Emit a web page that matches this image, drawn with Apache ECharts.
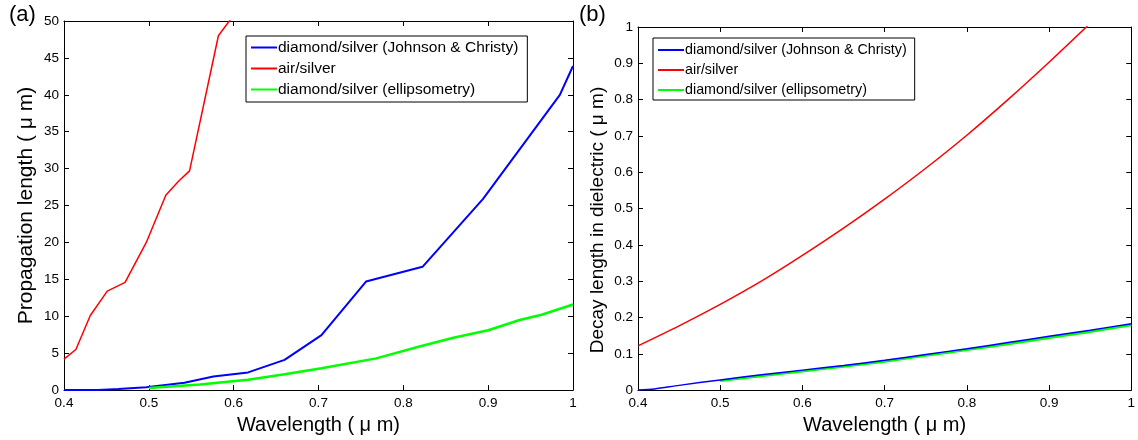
<!DOCTYPE html>
<html>
<head>
<meta charset="utf-8">
<script src="https://cdn.jsdelivr.net/npm/echarts@6/dist/echarts.min.js"></script>
<style>html,body{margin:0;padding:0;background:#fff;}#c{width:1138px;height:440px;}</style>
</head>
<body>
<div id="c"></div>
<script>
// ---- data ----
const seriesNames = ['diamond/silver (Johnson & Christy)', 'air/silver', 'diamond/silver (ellipsometry)'];
const xTitle = 'Wavelength ( \u03bc m)';
const yTitleA = 'Propagation length ( \u03bc m)';
const yTitleB = 'Decay length in dielectric ( \u03bc m)';

// panel (a): propagation length (um)
const aRedX = [0.4, 0.414, 0.431, 0.451, 0.472, 0.497, 0.52, 0.535, 0.548, 0.582, 0.6];
const aRedY = [4.2, 5.5, 10.1, 13.4, 14.6, 20.0, 26.4, 28.3, 29.7, 48.0, 50.8];
const aBlueX = [0.4, 0.44, 0.464, 0.497, 0.542, 0.576, 0.617, 0.66, 0.7035, 0.756, 0.8226, 0.894, 0.9845, 1.0];
const aBlueY = [0, 0.02, 0.15, 0.4, 1.0, 1.85, 2.4, 4.1, 7.45, 14.7, 16.7, 25.9, 40.0, 43.9];
const aGreenX = [0.5, 0.56, 0.617, 0.66, 0.7035, 0.768, 0.819, 0.859, 0.9, 0.937, 0.963, 1.0];
const aGreenY = [0.3, 0.75, 1.4, 2.15, 2.96, 4.3, 5.9, 7.1, 8.1, 9.5, 10.2, 11.6];

// panel (b): decay length in dielectric (um)
const bRedX = [0.4, 0.45, 0.5, 0.55, 0.6, 0.65, 0.7, 0.75, 0.8, 0.85, 0.9, 0.95];
const bRedY = [0.122, 0.177, 0.236, 0.300, 0.371, 0.446, 0.526, 0.611, 0.702, 0.800, 0.903, 1.010];
const bBlueX = [0.4, 0.42, 0.45, 0.5, 0.55, 0.6, 0.65, 0.7, 0.75, 0.8, 0.85, 0.9, 0.95, 1.0];
const bBlueY = [0.0, 0.003, 0.013, 0.028, 0.042, 0.055, 0.068, 0.082, 0.098, 0.114, 0.131, 0.148, 0.165, 0.183];
const bGreenX = [0.5, 0.55, 0.6, 0.65, 0.7, 0.75, 0.8, 0.85, 0.9, 0.95, 1.0];
const bGreenY = [0.026, 0.039, 0.052, 0.065, 0.079, 0.095, 0.111, 0.127, 0.144, 0.161, 0.179];

const FONT = '"Liberation Sans", Arial, Helvetica, sans-serif';
const zip = (xs, ys) => xs.map((x, i) => [x, ys[i]]);
const colors = { blue: '#0000ff', red: '#ff0000', green: '#00ff00' };

function xAx(gi, pos, show) {
  return {
    type: 'value', gridIndex: gi, position: pos, min: 0.4, max: 1, interval: 0.1,
    axisLine: { show: true, onZero: false, lineStyle: { color: '#000', width: 1 } },
    axisTick: { show: true, inside: true, length: 5, lineStyle: { color: '#000' } },
    axisLabel: { show: show, color: '#000', fontFamily: FONT, fontSize: 13.5, margin: 6 },
    splitLine: { show: false },
    name: show ? xTitle : '', nameLocation: 'middle', nameGap: 23,
    nameTextStyle: { color: '#000', fontFamily: FONT, fontSize: 20 }
  };
}
function yAx(gi, pos, show, max, interval, name, nameGap, nameSize) {
  return {
    type: 'value', gridIndex: gi, position: pos, min: 0, max: max, interval: interval,
    axisLine: { show: true, onZero: false, lineStyle: { color: '#000', width: 1 } },
    axisTick: { show: true, inside: true, length: 5, lineStyle: { color: '#000' } },
    axisLabel: { show: show, color: '#000', fontFamily: FONT, fontSize: 13.5, margin: 5 },
    splitLine: { show: false },
    name: name, nameLocation: 'middle', nameGap: nameGap,
    nameTextStyle: { color: '#000', fontFamily: FONT, fontSize: nameSize }
  };
}
function line(name, data, color, width, xi, yi, smooth) {
  return {
    type: 'line', name: name, data: data, xAxisIndex: xi, yAxisIndex: yi,
    showSymbol: false, symbol: 'none', clip: true, smooth: smooth,
    lineStyle: { color: color, width: width }, itemStyle: { color: color },
    emphasis: { disabled: true }
  };
}
function legend(left, top, fontSize, lh, pad) {
  return {
    show: true, orient: 'vertical', left: left, top: top,
    data: seriesNames, icon: 'rect', itemWidth: 26, itemHeight: 2, itemGap: 0,
    borderColor: '#000', borderWidth: 1, padding: pad,
    textStyle: { color: '#000', fontFamily: FONT, fontSize: fontSize, lineHeight: lh, padding: [0, 0, 0, -4] },
    selectedMode: false, backgroundColor: '#fff'
  };
}

const chart = echarts.init(document.getElementById('c'), null, { renderer: 'canvas' });
chart.setOption({
  animation: false,
  backgroundColor: '#fff',
  grid: [
    { left: 64, top: 21, width: 509, height: 371, containLabel: false },
    { left: 638, top: 27, width: 499, height: 366, containLabel: false }
  ],
  xAxis: [xAx(0, 'bottom', true), xAx(0, 'top', false), xAx(1, 'bottom', true), xAx(1, 'top', false)],
  yAxis: [
    yAx(0, 'left', true, 50, 5, yTitleA, 27, 21),
    yAx(0, 'right', false, 50, 5, '', 0, 12),
    yAx(1, 'left', true, 1, 0.1, '', 0, 12),
    yAx(1, 'right', false, 1, 0.1, '', 0, 12)
  ],
  legend: [legend(246, 36, 15.5, 21, [1, 9, 2, 5]), legend(653, 38, 14.3, 20, [2, 8, 0, 5])],
  series: [
    line(seriesNames[0], zip(aBlueX, aBlueY), colors.blue, 2, 0, 0, false),
    line(seriesNames[1], zip(aRedX, aRedY), colors.red, 1.5, 0, 0, false),
    line(seriesNames[2], zip(aGreenX, aGreenY), colors.green, 2.5, 0, 0, false),
    line(seriesNames[2], zip(bGreenX, bGreenY), colors.green, 2.5, 2, 2, 0.3),
    line(seriesNames[0], zip(bBlueX, bBlueY), colors.blue, 1.5, 2, 2, 0.3),
    line(seriesNames[1], zip(bRedX, bRedY), colors.red, 1.5, 2, 2, 0.3)
  ],
  graphic: [
    { type: 'text', left: 9, top: 4, style: { text: '(a)', font: '22px ' + FONT, fill: '#000' } },
    { type: 'text', left: 579, top: 4, style: { text: '(b)', font: '22px ' + FONT, fill: '#000' } },
    { type: 'text', x: 598, y: 220, rotation: Math.PI / 2,
      style: { text: yTitleB, font: '19px ' + FONT, fill: '#000', align: 'center', verticalAlign: 'middle' } }
  ]
});
</script>
</body>
</html>
